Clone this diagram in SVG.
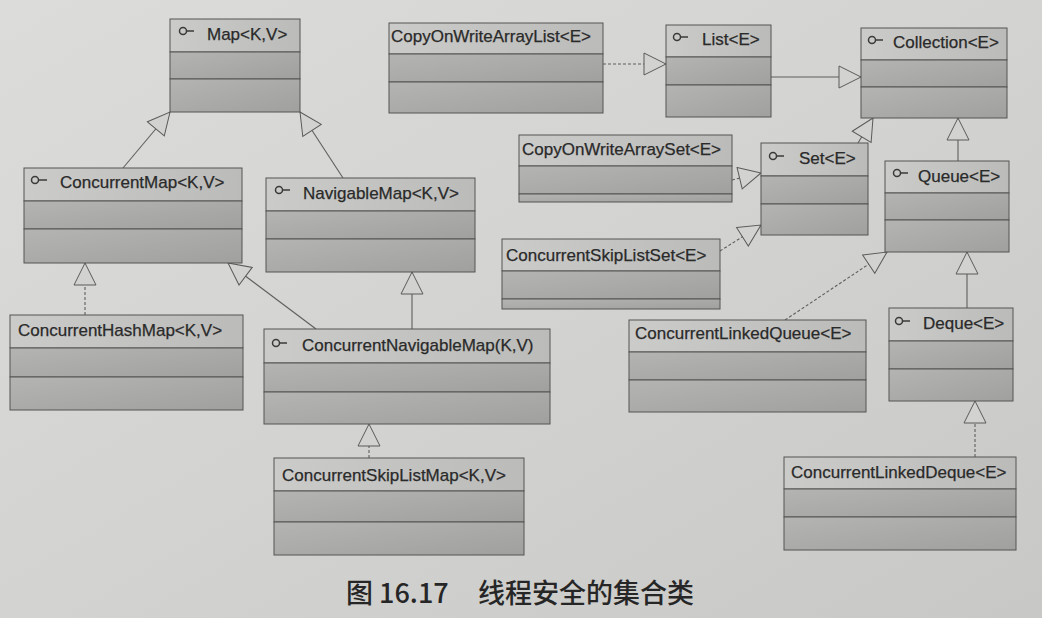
<svg xmlns="http://www.w3.org/2000/svg" width="1042" height="618" viewBox="0 0 1042 618">
<defs>
<linearGradient id="bg" x1="0" y1="0" x2="1" y2="1">
<stop offset="0" stop-color="#dcdcda"/>
<stop offset="0.5" stop-color="#d3d3d1"/>
<stop offset="1" stop-color="#c8c8c6"/>
</linearGradient>
<linearGradient id="cg" x1="0" y1="0" x2="1" y2="1">
<stop offset="0" stop-color="#b4b4b2"/>
<stop offset="1" stop-color="#a0a09e"/>
</linearGradient>
<linearGradient id="hg" x1="0" y1="0" x2="1" y2="0">
<stop offset="0" stop-color="#cbcbc9"/>
<stop offset="1" stop-color="#bbbbb9"/>
</linearGradient>
<marker id="tri" markerUnits="userSpaceOnUse" markerWidth="24" markerHeight="24" viewBox="-1 -1 24 24" refX="22" refY="11" orient="auto">
<path d="M0,0 L22,11 L0,22 Z" fill="#d2d2d0" stroke="#5a5a5a" stroke-width="1"/>
</marker>
<style>
.hdr{fill:url(#hg);stroke:#555;stroke-width:1}
.cmp{fill:url(#cg);stroke:#555;stroke-width:1}
.t{font-family:"Liberation Sans",Arial,sans-serif;font-size:17px;fill:#2a2a2a;stroke:#2a2a2a;stroke-width:0.25}
.ic{fill:none;stroke:#3a3a3a;stroke-width:1.5}
.ln{fill:none;stroke:#5e5e5e;stroke-width:1.1;marker-end:url(#tri)}
.dash{stroke-dasharray:3 2}
.cap{font-family:"Noto Sans CJK SC","Noto Sans",sans-serif;font-size:27px;font-weight:500;fill:#262626}
</style>
</defs>
<rect width="1042" height="618" fill="url(#bg)"/>

<g id="connectors">
<path class="ln" d="M123,168 L170,112"/>
<path class="ln" d="M343,178 L300,112"/>
<path class="ln dash" d="M603,64 L666,64"/>
<path class="ln" d="M771,77 L861,77"/>
<path class="ln" d="M858,143 L873,118"/>
<path class="ln" d="M958,161 L958,118"/>
<path class="ln dash" d="M732,180 L761,173"/>
<path class="ln dash" d="M720,251 L761,225"/>
<path class="ln dash" d="M785,320 L887,252"/>
<path class="ln" d="M967,308 L967,252"/>
<path class="ln dash" d="M975,457 L975,401"/>
<path class="ln dash" d="M85,315 L85,263"/>
<path class="ln" d="M316,329 L228,263"/>
<path class="ln" d="M412,329 L412,272"/>
<path class="ln dash" d="M369,458 L369,424"/>
</g>

<g id="map">
<rect class="hdr" x="170" y="19" width="130" height="33"/>
<rect class="cmp" x="170" y="52" width="130" height="27"/>
<rect class="cmp" x="170" y="79" width="130" height="33"/>
<circle class="ic" cx="183" cy="31" r="3.5"/><path class="ic" d="M186.5,31 H194"/>
<text class="t" x="207" y="40">Map&lt;K,V&gt;</text>
</g>

<g id="copyonwritearraylist">
<rect class="hdr" x="389" y="23" width="214" height="31"/>
<rect class="cmp" x="389" y="54" width="214" height="28"/>
<rect class="cmp" x="389" y="82" width="214" height="31"/>
<text class="t" x="391" y="42">CopyOnWriteArrayList&lt;E&gt;</text>
</g>

<g id="list">
<rect class="hdr" x="666" y="25" width="105" height="32"/>
<rect class="cmp" x="666" y="57" width="105" height="28"/>
<rect class="cmp" x="666" y="85" width="105" height="32"/>
<circle class="ic" cx="677" cy="37" r="3.5"/><path class="ic" d="M680.5,37 H688"/>
<text class="t" x="702" y="45">List&lt;E&gt;</text>
</g>

<g id="collection">
<rect class="hdr" x="861" y="28" width="146" height="32"/>
<rect class="cmp" x="861" y="60" width="146" height="27"/>
<rect class="cmp" x="861" y="87" width="146" height="31"/>
<circle class="ic" cx="872" cy="40" r="3.5"/><path class="ic" d="M875.5,40 H883"/>
<text class="t" x="893" y="48">Collection&lt;E&gt;</text>
</g>

<g id="concurrentmap">
<rect class="hdr" x="24" y="168" width="218" height="33"/>
<rect class="cmp" x="24" y="201" width="218" height="28"/>
<rect class="cmp" x="24" y="229" width="218" height="34"/>
<circle class="ic" cx="35" cy="180" r="3.5"/><path class="ic" d="M38.5,180 H47"/>
<text class="t" x="60" y="188">ConcurrentMap&lt;K,V&gt;</text>
</g>

<g id="navigablemap">
<rect class="hdr" x="266" y="178" width="209" height="33"/>
<rect class="cmp" x="266" y="211" width="209" height="28"/>
<rect class="cmp" x="266" y="239" width="209" height="33"/>
<circle class="ic" cx="279" cy="190" r="3.5"/><path class="ic" d="M282.5,190 H290"/>
<text class="t" x="303" y="199">NavigableMap&lt;K,V&gt;</text>
</g>

<g id="copyonwritearrayset">
<rect class="hdr" x="519" y="135" width="213" height="31"/>
<rect class="cmp" x="519" y="166" width="213" height="28"/>
<rect class="cmp" x="519" y="194" width="213" height="8"/>
<text class="t" x="522" y="155">CopyOnWriteArraySet&lt;E&gt;</text>
</g>

<g id="set">
<rect class="hdr" x="761" y="143" width="107" height="33"/>
<rect class="cmp" x="761" y="176" width="107" height="28"/>
<rect class="cmp" x="761" y="204" width="107" height="31"/>
<circle class="ic" cx="773" cy="156" r="3.5"/><path class="ic" d="M776.5,156 H784"/>
<text class="t" x="799" y="164">Set&lt;E&gt;</text>
</g>

<g id="queue">
<rect class="hdr" x="885" y="161" width="124" height="32"/>
<rect class="cmp" x="885" y="193" width="124" height="27"/>
<rect class="cmp" x="885" y="220" width="124" height="32"/>
<circle class="ic" cx="897" cy="173" r="3.5"/><path class="ic" d="M900.5,173 H908"/>
<text class="t" x="918" y="182">Queue&lt;E&gt;</text>
</g>

<g id="concurrentskiplistset">
<rect class="hdr" x="502" y="239" width="218" height="32"/>
<rect class="cmp" x="502" y="271" width="218" height="28"/>
<rect class="cmp" x="502" y="299" width="218" height="10"/>
<text class="t" x="506" y="261">ConcurrentSkipListSet&lt;E&gt;</text>
</g>

<g id="concurrenthashmap">
<rect class="hdr" x="10" y="315" width="233" height="33"/>
<rect class="cmp" x="10" y="348" width="233" height="29"/>
<rect class="cmp" x="10" y="377" width="233" height="33"/>
<text class="t" x="18" y="336">ConcurrentHashMap&lt;K,V&gt;</text>
</g>

<g id="concurrentnavigablemap">
<rect class="hdr" x="264" y="329" width="286" height="34"/>
<rect class="cmp" x="264" y="363" width="286" height="29"/>
<rect class="cmp" x="264" y="392" width="286" height="32"/>
<circle class="ic" cx="276" cy="343" r="3.5"/><path class="ic" d="M279.5,343 H287"/>
<text class="t" x="302" y="351">ConcurrentNavigableMap(K,V)</text>
</g>

<g id="concurrentskiplistmap">
<rect class="hdr" x="274" y="458" width="250" height="33"/>
<rect class="cmp" x="274" y="491" width="250" height="31"/>
<rect class="cmp" x="274" y="522" width="250" height="33"/>
<text class="t" x="282" y="481">ConcurrentSkipListMap&lt;K,V&gt;</text>
</g>

<g id="concurrentlinkedqueue">
<rect class="hdr" x="629" y="320" width="237" height="32"/>
<rect class="cmp" x="629" y="352" width="237" height="28"/>
<rect class="cmp" x="629" y="380" width="237" height="32"/>
<text class="t" x="635" y="339">ConcurrentLinkedQueue&lt;E&gt;</text>
</g>

<g id="deque">
<rect class="hdr" x="889" y="308" width="124" height="33"/>
<rect class="cmp" x="889" y="341" width="124" height="28"/>
<rect class="cmp" x="889" y="369" width="124" height="32"/>
<circle class="ic" cx="899" cy="321" r="3.5"/><path class="ic" d="M902.5,321 H910"/>
<text class="t" x="923" y="329">Deque&lt;E&gt;</text>
</g>

<g id="concurrentlinkeddeque">
<rect class="hdr" x="784" y="457" width="232" height="32"/>
<rect class="cmp" x="784" y="489" width="232" height="28"/>
<rect class="cmp" x="784" y="517" width="232" height="33"/>
<text class="t" x="791" y="478">ConcurrentLinkedDeque&lt;E&gt;</text>
</g>

<g id="caption">
<text class="cap" x="346" y="603">图 16.17</text>
<text class="cap" x="478" y="603">线程安全的集合类</text>
</g>
</svg>
